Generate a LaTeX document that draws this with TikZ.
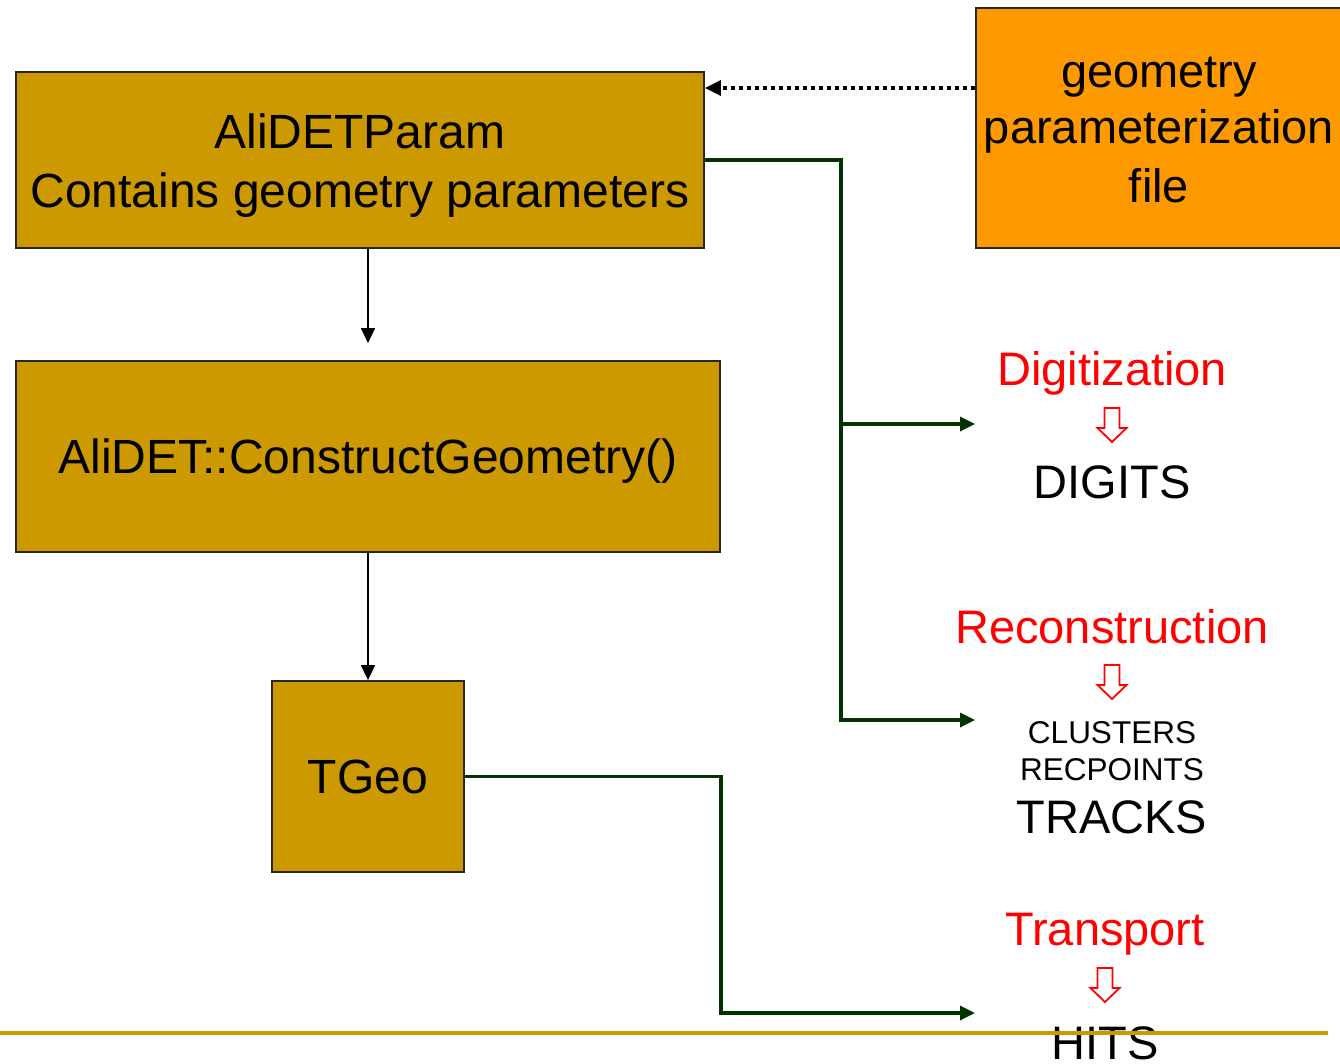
\documentclass[tikz,border=0pt]{standalone}
\usepackage{fontspec}
\setmainfont{Liberation Sans}
\usetikzlibrary{arrows.meta}
\definecolor{gold}{HTML}{CC9900}
\definecolor{orng}{HTML}{FF9900}
\definecolor{dgreen}{RGB}{0,51,0}
\definecolor{rd}{HTML}{FF0000}
\begin{document}
\begin{tikzpicture}[x=1pt,y=-1pt,
  boxnode/.style={draw=black!85, line width=1.8pt, inner sep=0pt},
  txt/.style={anchor=base, inner sep=0pt, font=\fontsize{47}{56}\selectfont},
  boxtxt/.style={txt, font=\fontsize{48}{56}\selectfont},
  smalltxt/.style={anchor=base, inner sep=0pt, font=\fontsize{31.5}{38}\selectfont},
  redtxt/.style={txt, text=rd},
  grn/.style={draw=dgreen, line width=3.3pt, -{Triangle[length=15pt,width=14pt]}},
  blk/.style={draw=black, line width=1.6pt, -{Triangle[length=15pt,width=14pt]}},
  hdown/.pic={\draw[rd, line width=1.8pt, line join=miter, fill=white]
     (-7.5,0) -- (7.5,0) -- (7.5,20) -- (14.5,20) -- (0,34) -- (-14.5,20) -- (-7.5,20) -- cycle;}
]
\useasboundingbox[fill=white] (0,0) rectangle (1340,1063);

% boxes
\node[boxnode, fill=gold, minimum width=688pt, minimum height=176pt] (param) at (360,160) {};
\node[boxnode, fill=gold, minimum width=704pt, minimum height=191pt] (cgeo) at (368,456.5) {};
\node[boxnode, fill=gold, minimum width=192pt, minimum height=191pt] (tgeo) at (368,776.5) {};
\node[boxnode, fill=orng, minimum width=369pt, minimum height=240pt] (geofile) at (1160.5,128) {};

% box texts
\node[boxtxt] (paramA) at (360,148) {AliDETParam};
\node[boxtxt] (paramB) at (360,207) {Contains geometry parameters};
\node[boxtxt] (cgeotxt) at (368,473) {AliDET::ConstructGeometry()};
\node[boxtxt] (tgeotxt) at (368,793) {TGeo};
\node[txt] (gfA) at (1159,87) {geometry};
\node[txt] (gfB) at (1159,143) {parameterization};
\node[txt] (gfC) at (1159,202) {file};

% right texts
\node[redtxt] (digi) at (1112,385) {Digitization};
\pic at (1112,408) {hdown};
\node[txt] (digits) at (1112,498) {DIGITS};

\node[redtxt] (reco) at (1112,643) {Reconstruction};
\pic at (1112,665) {hdown};
\node[smalltxt] (clus) at (1112,743) {CLUSTERS};
\node[smalltxt] (recp) at (1112,780) {RECPOINTS};
\node[txt] (tracks) at (1112,833) {TRACKS};

\node[redtxt] (transp) at (1105,945) {Transport};
\pic at (1105,968) {hdown};
\node[txt] (hits) at (1105,1059) {HITS};

% connector ends
\coordinate (digin) at (975,424);
\coordinate (recin) at (975,720);
\coordinate (hitin) at (975,1013);
\coordinate (branch) at (840,424);

% dotted arrow
\draw[line width=3.5pt, dash pattern=on 4pt off 4pt, -{Triangle[length=16pt,width=15pt]}]
  ([yshift=40pt]geofile.west) -- ([yshift=72pt]param.east);

% black arrows
\draw[blk, shorten >=17pt] (cgeo.north |- param.south) -- (cgeo.north);
\draw[blk] (cgeo.south) -- (tgeo.north);

% green connectors
\draw[grn] (param.east) -- ++(136,0) |- (recin);
\draw[grn] (branch) -- (digin);
\draw[grn] (tgeo.east) -- ++(256,0) |- (hitin);

% bottom rule
\coordinate (ruleL) at (0,1033);
\coordinate (ruleR) at (1328,1033);
\draw[gold, line width=4pt] (ruleL) -- (ruleR);
\end{tikzpicture}
\end{document}
